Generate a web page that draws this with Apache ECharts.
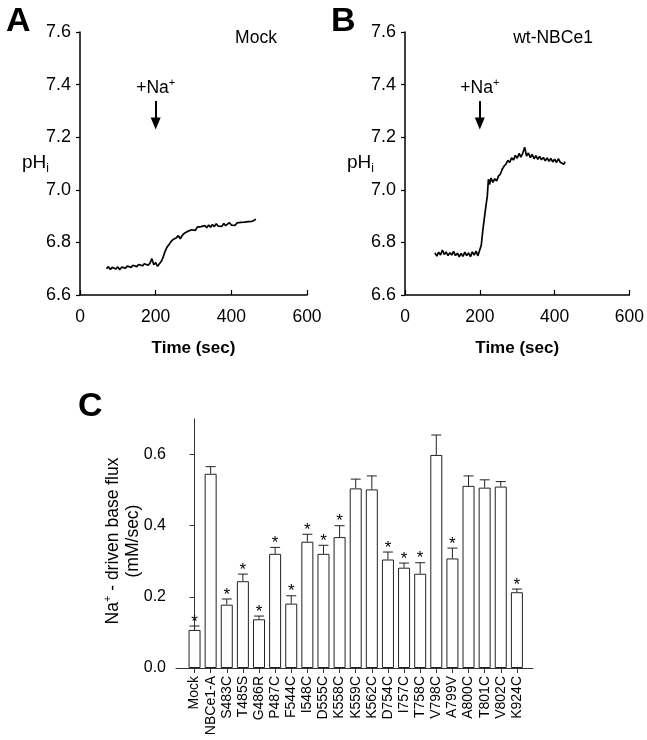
<!DOCTYPE html>
<html><head><meta charset="utf-8">
<script src="https://cdn.jsdelivr.net/npm/echarts@6/dist/echarts.min.js"></script>
<style>html,body{margin:0;padding:0;background:#fff}#c{width:647px;height:740px}</style>
</head><body><div id="c"></div>
<script>
// Panel A: Mock trace
const timeA = [70,75,80,85,90,95,100,105,110,115,120,125,130,135,140,145,150,155,160,165,170,175,180,185,190,195,200,205,210,215,220,225,230,235,240,245,250,255,260,265,270,275,280,285,290,295,300,305,310,315,320,325,330,335,340,345,350,355,360,365,370,375,380,385,390,395,400,405,410,415,420,425,430,435,440,445,450,455,460,465];
const phA = [6.700,6.708,6.697,6.705,6.710,6.699,6.707,6.696,6.706,6.713,6.702,6.710,6.716,6.705,6.713,6.719,6.708,6.716,6.721,6.711,6.719,6.724,6.713,6.721,6.738,6.715,6.723,6.709,6.716,6.728,6.745,6.766,6.782,6.791,6.802,6.810,6.804,6.818,6.826,6.814,6.826,6.834,6.829,6.842,6.837,6.848,6.855,6.846,6.858,6.851,6.860,6.853,6.864,6.856,6.866,6.858,6.868,6.860,6.871,6.862,6.869,6.861,6.872,6.864,6.870,6.875,6.866,6.873,6.865,6.874,6.868,6.876,6.869,6.877,6.870,6.879,6.872,6.880,6.874,6.888];
// Panel B: wt-NBCe1 trace
const timeB = [80,85,90,95,100,105,110,115,120,125,130,135,140,145,150,155,160,165,170,175,180,185,190,195,200,204,208,212,216,220,223,226,230,235,240,245,250,255,260,265,270,275,280,285,290,295,300,305,310,315,320,325,330,335,340,345,350,355,360,365,370,375,380,385,390,395,400,405,410,415,420,425,428];
const phB = [6.760,6.748,6.763,6.752,6.771,6.754,6.764,6.750,6.761,6.752,6.766,6.750,6.759,6.745,6.758,6.747,6.763,6.750,6.760,6.746,6.764,6.752,6.767,6.749,6.742,6.790,6.845,6.890,6.935,6.975,7.040,7.020,7.045,7.028,7.042,7.034,7.052,7.060,7.078,7.090,7.098,7.112,7.104,7.122,7.113,7.131,7.120,7.138,7.124,7.140,7.162,7.128,7.140,7.122,7.135,7.118,7.130,7.116,7.127,7.114,7.123,7.110,7.121,7.108,7.119,7.106,7.116,7.104,7.118,7.105,7.112,7.097,7.107];
const naAddTime = 200;

// Panel C: Na+-driven base flux
const categories = ['Mock','NBCe1-A','S483C','T485S','G486R','P487C','F544C','I548C','D555C','K558C','K559C','K562C','D754C','I757C','T758C','V798C','A799V','A800C','T801C','V802C','K924C'];
const flux = [0.107,0.546,0.178,0.244,0.137,0.321,0.181,0.355,0.321,0.368,0.505,0.502,0.305,0.282,0.265,0.599,0.308,0.512,0.507,0.510,0.213];
const fluxSE = [0.011,0.020,0.016,0.020,0.009,0.018,0.022,0.021,0.024,0.032,0.026,0.038,0.021,0.013,0.031,0.056,0.029,0.028,0.022,0.014,0.009];
const significant = [1,0,1,1,1,1,1,1,1,1,0,0,1,1,1,0,1,0,0,0,1];
const fluxTicks = [0, 0.2, 0.4, 0.6];

const FF = 'Arial, "Liberation Sans", sans-serif';
const chart = echarts.init(document.getElementById('c'), null, {renderer: 'canvas'});

function timeX(idx) {
  return {
    gridIndex: idx, type: 'value', min: 0, max: 600, interval: 200,
    axisLine: {lineStyle: {color: '#000', width: 1.5}},
    axisTick: {inside: true, length: 5, lineStyle: {color: '#000', width: 1.2}},
    axisLabel: {color: '#000', fontSize: 17.5, margin: 13, fontFamily: FF},
    splitLine: {show: false},
    name: 'Time (sec)', nameLocation: 'middle', nameGap: 45,
    nameTextStyle: {color: '#000', fontSize: 17, fontWeight: 'bold', fontFamily: FF}
  };
}
function phY(idx) {
  return {
    gridIndex: idx, type: 'value', min: 6.6, max: 7.6, interval: 0.2,
    axisLine: {show: true, lineStyle: {color: '#000', width: 1.5}},
    axisTick: {show: true, length: 4, lineStyle: {color: '#000', width: 1.2}},
    axisLabel: {color: '#000', fontSize: 18, margin: 9, fontFamily: FF, formatter: v => v.toFixed(1)},
    splitLine: {show: false}
  };
}
function arrowMarks() {
  return {
    markLine: {
      silent: true, symbol: ['none', 'triangle'], symbolSize: [10, 12],
      lineStyle: {color: '#000', width: 2, type: 'solid'},
      label: {show: false},
      data: [[{coord: [naAddTime, 7.338]}, {coord: [naAddTime, 7.252]}]]
    },
    markPoint: {
      silent: true, symbol: 'circle', symbolSize: 0,
      data: [{coord: [naAddTime, 7.388]}],
      label: {show: true, position: 'inside', formatter: '{a|+Na}{s|+}',
        rich: {a: {fontSize: 17.5, color: '#000', fontFamily: FF, lineHeight: 22},
               s: {fontSize: 11, color: '#000', fontFamily: FF, lineHeight: 22, padding: [0, 0, 10, 0]}}}
    }
  };
}
const phRich = {
  b: {fontSize: 19, fill: '#000', fontFamily: FF, lineHeight: 24},
  s: {fontSize: 12, fill: '#000', fontFamily: FF, lineHeight: 24, padding: [12, 0, 0, 0]}
};

const option = {
  animation: false,
  backgroundColor: '#fff',
  grid: [
    {left: 80, top: 32, width: 227, height: 263},
    {left: 405, top: 32, width: 225, height: 263},
    {left: 176, top: 419, width: 357, height: 249}
  ],
  xAxis: [
    timeX(0), timeX(1),
    {
      gridIndex: 2, type: 'value', min: -1.15, max: categories.length,
      axisLine: {lineStyle: {color: '#333', width: 1}},
      axisTick: {show: true, length: 5, customValues: categories.map((c, i) => i), lineStyle: {color: '#333'}},
      axisLabel: {color: '#000', fontSize: 14, rotate: 90, margin: 8, fontFamily: FF,
        customValues: categories.map((c, i) => i), formatter: v => categories[Math.round(v)] || ''},
      splitLine: {show: false}
    }
  ],
  yAxis: [
    phY(0), phY(1),
    {
      gridIndex: 2, type: 'value', min: 0, max: 0.7,
      axisLine: {show: true, lineStyle: {color: '#333', width: 1}},
      axisTick: {show: true, length: 5, customValues: fluxTicks, lineStyle: {color: '#333'}},
      axisLabel: {color: '#000', fontSize: 16, margin: 10, fontFamily: FF, customValues: fluxTicks, formatter: v => v.toFixed(1)},
      splitLine: {show: false}
    }
  ],
  graphic: [
    {type: 'text', left: 6, top: 5, style: {text: 'A', fontSize: 34, fontWeight: 'bold', fontFamily: FF, fill: '#000'}},
    {type: 'text', left: 331, top: 5, style: {text: 'B', fontSize: 34, fontWeight: 'bold', fontFamily: FF, fill: '#000'}},
    {type: 'text', left: 78, top: 390, style: {text: 'C', fontSize: 34, fontWeight: 'bold', fontFamily: FF, fill: '#000'}},
    {type: 'text', x: 256, y: 38, style: {text: 'Mock', fontSize: 17.5, fontFamily: FF, fill: '#000', align: 'center', verticalAlign: 'middle'}},
    {type: 'text', x: 553, y: 38, style: {text: 'wt-NBCe1', fontSize: 17.5, fontFamily: FF, fill: '#000', align: 'center', verticalAlign: 'middle'}},
    {type: 'text', x: 22, y: 163, style: {text: '{b|pH}{s|i}', rich: phRich, align: 'left', verticalAlign: 'middle'}},
    {type: 'text', x: 347, y: 163, style: {text: '{b|pH}{s|i}', rich: phRich, align: 'left', verticalAlign: 'middle'}},
    {type: 'text', x: 123, y: 541, rotation: Math.PI / 2,
      style: {text: '{a|Na}{s|+}{a| - driven base flux}\n{a|(mM/sec)}', align: 'center', verticalAlign: 'middle',
        rich: {a: {fontSize: 17.5, fill: '#000', fontFamily: FF, lineHeight: 20, align: 'center'},
               s: {fontSize: 11, fill: '#000', fontFamily: FF, lineHeight: 20, padding: [0, 0, 10, 0]}}}}
  ],
  series: [
    Object.assign({
      type: 'line', xAxisIndex: 0, yAxisIndex: 0, showSymbol: false, symbol: 'none',
      lineStyle: {color: '#000', width: 1.7}, data: timeA.map((t, i) => [t, phA[i]])
    }, arrowMarks()),
    Object.assign({
      type: 'line', xAxisIndex: 1, yAxisIndex: 1, showSymbol: false, symbol: 'none',
      lineStyle: {color: '#000', width: 1.7}, data: timeB.map((t, i) => [t, phB[i]])
    }, arrowMarks()),
    {
      type: 'bar', xAxisIndex: 2, yAxisIndex: 2, barWidth: 12,
      itemStyle: {color: '#fff', borderColor: '#222', borderWidth: 1},
      data: flux.map((v, i) => [i, v])
    },
    {
      type: 'custom', xAxisIndex: 2, yAxisIndex: 2, clip: false,
      encode: {x: 0, y: 1},
      data: flux.map((v, i) => [i, v, fluxSE[i], significant[i]]),
      renderItem: function (params, api) {
        const i = api.value(0), m = api.value(1), e = api.value(2), s = api.value(3);
        const p0 = api.coord([i, m]);
        const p1 = api.coord([i, m + e]);
        const st = {stroke: '#222', lineWidth: 1};
        const children = [
          {type: 'line', shape: {x1: p0[0], y1: p0[1], x2: p1[0], y2: p1[1]}, style: st},
          {type: 'line', shape: {x1: p1[0] - 5, y1: p1[1], x2: p1[0] + 5, y2: p1[1]}, style: st}
        ];
        if (s) {
          children.push({type: 'text', x: p1[0], y: p1[1] - 4,
            style: {text: '*', fontSize: 17, fontFamily: FF, fill: '#000', align: 'center', verticalAlign: 'middle'}});
        }
        return {type: 'group', children: children};
      }
    }
  ]
};
chart.setOption(option);
</script>
</body></html>
